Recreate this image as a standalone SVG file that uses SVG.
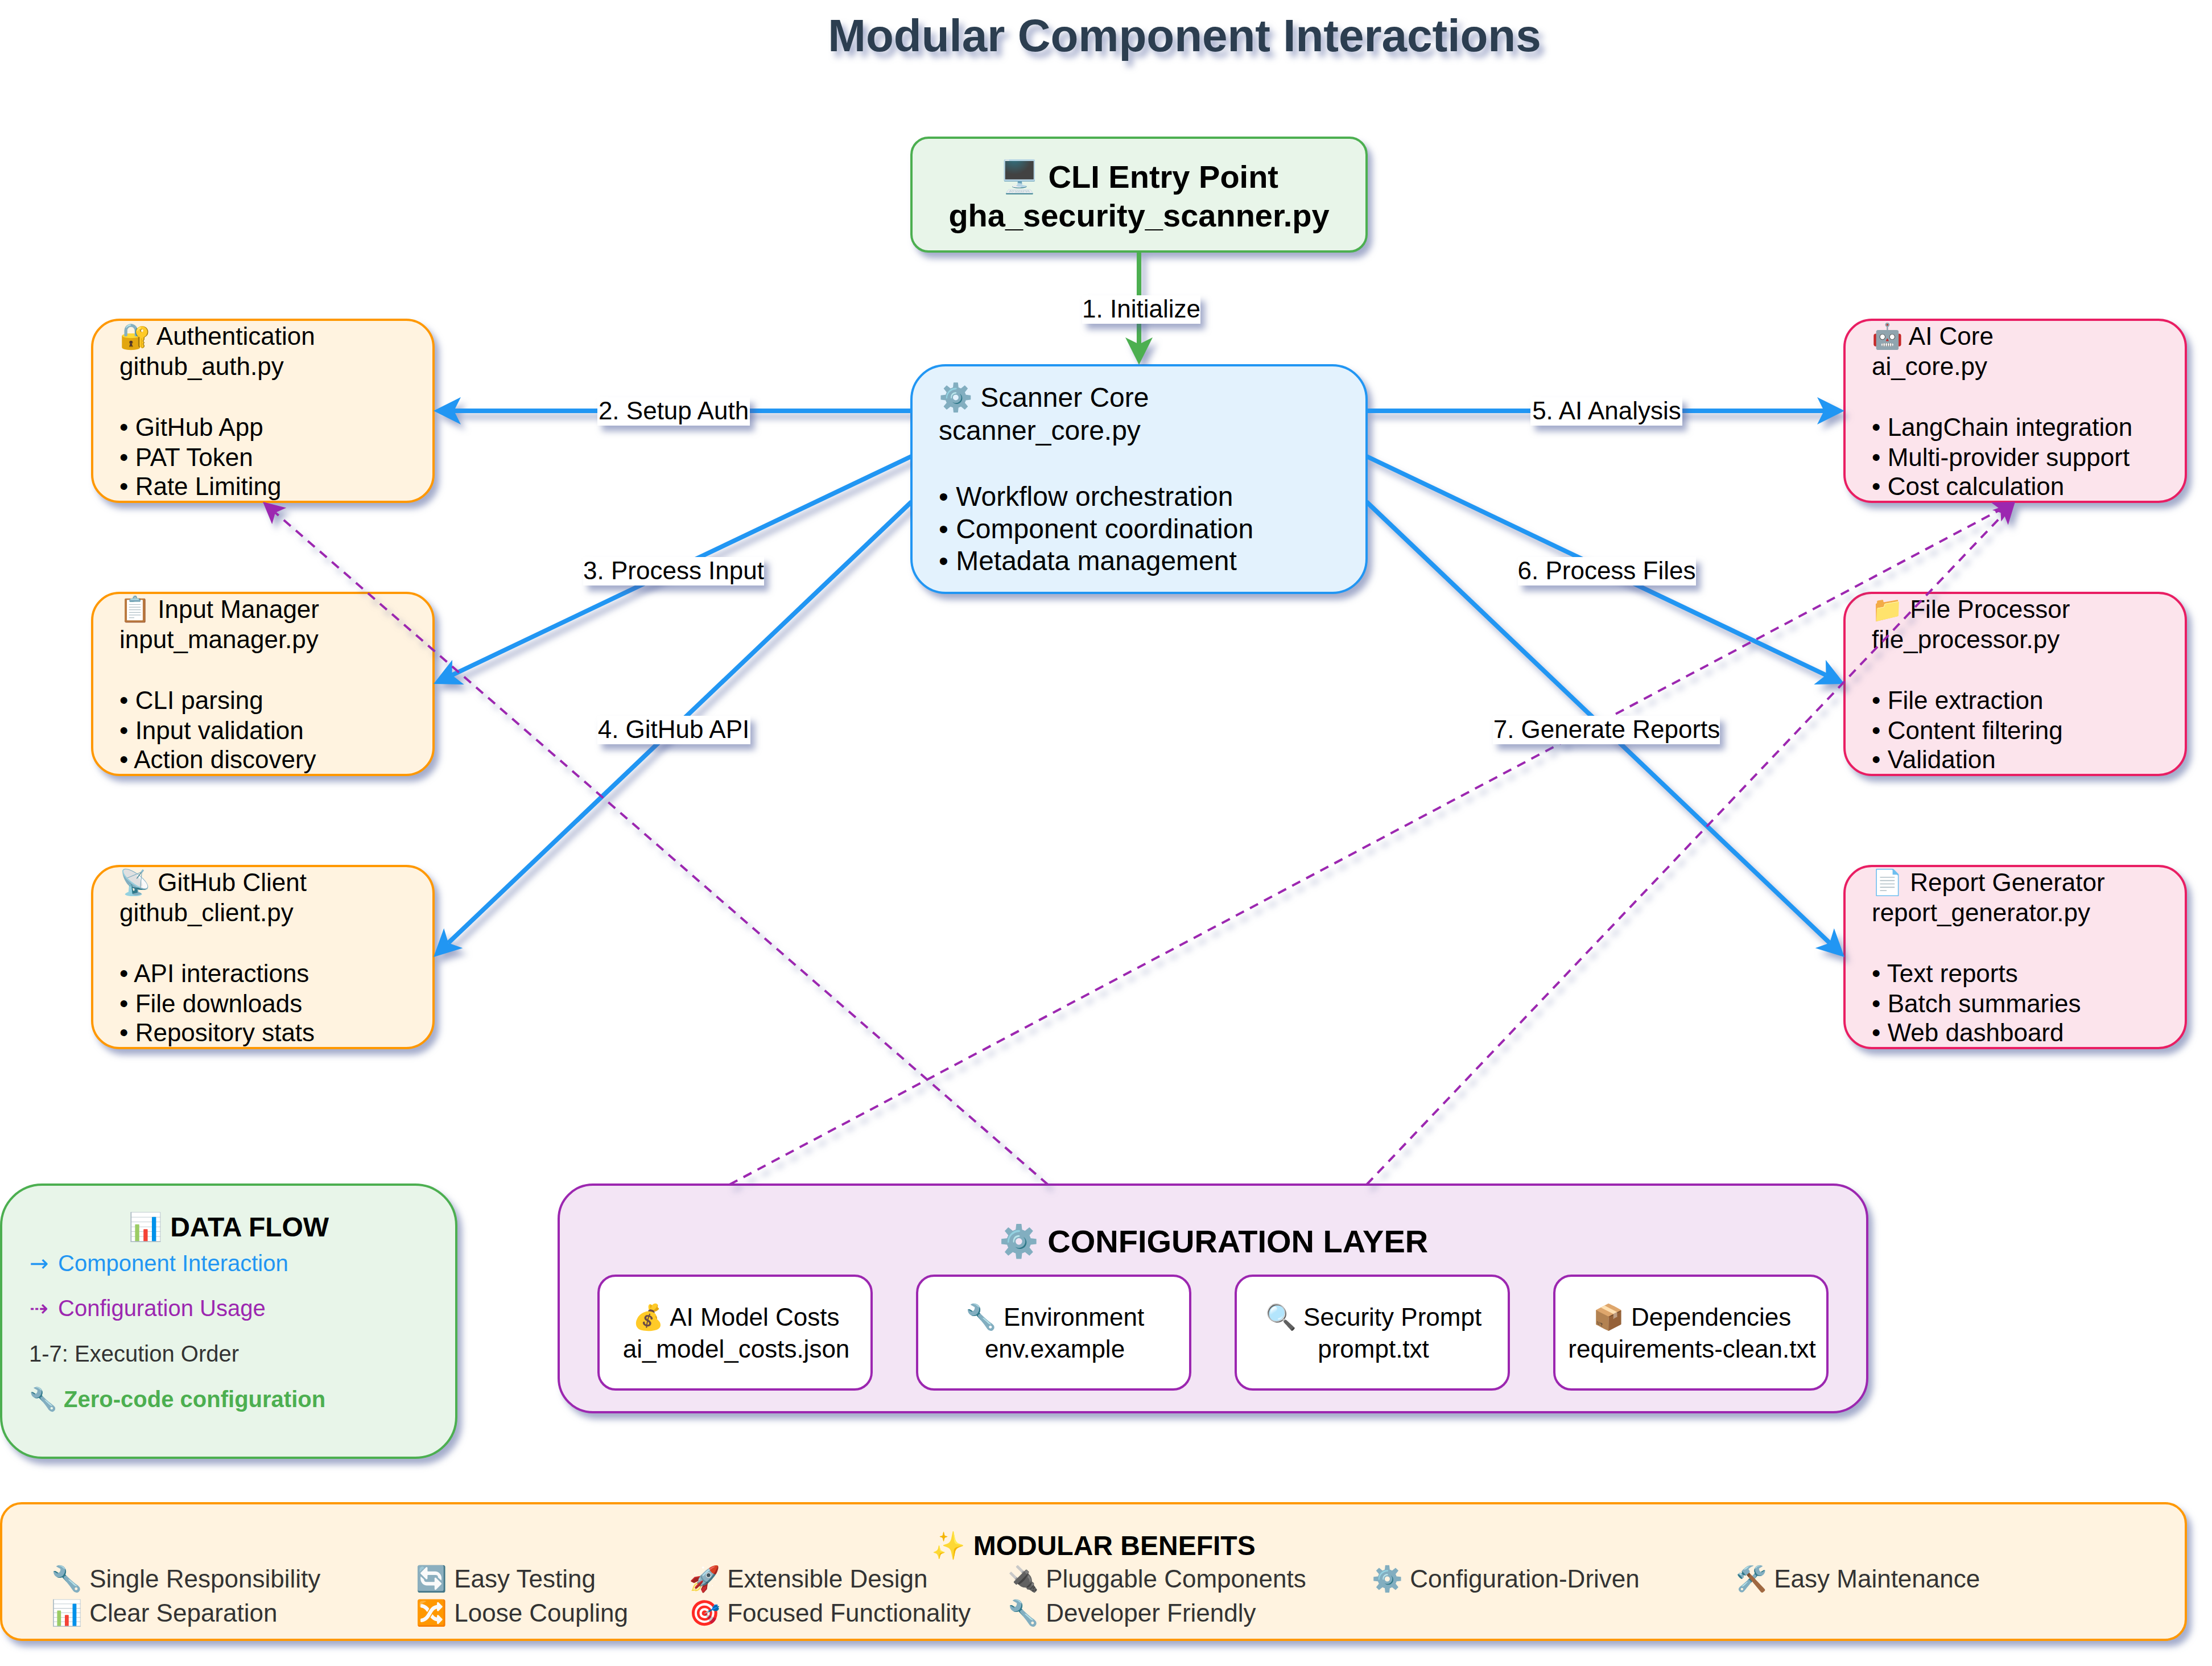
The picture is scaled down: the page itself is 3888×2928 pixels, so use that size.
<svg xmlns="http://www.w3.org/2000/svg" width="3888" height="2928" viewBox="0 0 3888 2928">
<style>
text{font-family:"Liberation Sans","DejaVu Sans",sans-serif;fill:#000}
.t44{font-size:44px}
.t48{font-size:48px}
.t40{font-size:40px}
.b{font-weight:bold}
.m{text-anchor:middle}
.box{stroke-width:4}
.green{fill:#e8f5e9;stroke:#4caf50}
.blue{fill:#e3f2fd;stroke:#2196f3}
.orange{fill:#fff3e0;stroke:#ff9800}
.pink{fill:#fce4ec;stroke:#e91e63}
.purple{fill:#f3e5f5;stroke:#9c27b0}
.child{fill:#fff;stroke:#9c27b0;stroke-width:4}
.ben{font-size:44px;fill:#333}
.flow{fill:none;stroke:#2196f3;stroke-width:8;marker-end:url(#hb)}
.cfg{fill:none;stroke:#9c27b0;stroke-width:4;stroke-dasharray:16 12;marker-end:url(#hp)}
.lbl{fill:#fff}
.arw{font-family:"DejaVu Sans",sans-serif}
</style>
<defs>
<filter id="s" filterUnits="userSpaceOnUse" x="-50" y="-50" width="3988" height="3028" color-interpolation-filters="sRGB"><feDropShadow dx="8" dy="10" stdDeviation="6" flood-color="#4a5a98" flood-opacity="0.5"/></filter>
<marker id="hb" markerUnits="userSpaceOnUse" markerWidth="48" markerHeight="48" refX="12" refY="24" orient="auto" overflow="visible"><path d="M0 0L48 24L0 48L12 24Z" fill="#2196f3"/></marker>
<marker id="hg" markerUnits="userSpaceOnUse" markerWidth="48" markerHeight="48" refX="12" refY="24" orient="auto" overflow="visible"><path d="M0 0L48 24L0 48L12 24Z" fill="#4caf50"/></marker>
<marker id="hp" markerUnits="userSpaceOnUse" markerWidth="38" markerHeight="38" refX="9" refY="19" orient="auto" overflow="visible"><path d="M0 0L38 19L0 38L9 19Z" fill="#9c27b0"/></marker>
<clipPath id="notCore"><path clip-rule="evenodd" d="M0 0H3888V2928H0ZM1602 642H2402V1042H1602Z"/></clipPath>
</defs>
<rect width="3888" height="2928" fill="#fff"/>
<text id="title" x="2082" y="90" class="b m" font-size="80" style="fill:#2c3e50" filter="url(#s)">Modular Component Interactions</text>

<g id="cli-entry"><rect class="box green" x="1602" y="242" width="800" height="200" rx="30" filter="url(#s)"/>
<text x="2002" y="330" class="b m" font-size="56">🖥️ CLI Entry Point</text><text x="2002" y="398" class="b m" font-size="56">gha_security_scanner.py</text></g>

<g id="scanner-core"><rect class="box blue" x="1602" y="642" width="800" height="400" rx="60" filter="url(#s)"/>
<text class="t48"><tspan x="1650" y="715">⚙️ Scanner Core</tspan><tspan x="1650" y="773">scanner_core.py</tspan><tspan x="1650" y="889">• Workflow orchestration</tspan><tspan x="1650" y="946">• Component coordination</tspan><tspan x="1650" y="1002">• Metadata management</tspan></text></g>

<g id="authentication"><rect class="box orange" x="162" y="562" width="600" height="320" rx="48" filter="url(#s)"/>
<text class="t44"><tspan x="210" y="606">🔐 Authentication</tspan><tspan x="210" y="658.8">github_auth.py</tspan><tspan x="210" y="766">• GitHub App</tspan><tspan x="210" y="818.5">• PAT Token</tspan><tspan x="210" y="870">• Rate Limiting</tspan></text></g>

<g id="input-manager"><rect class="box orange" x="162" y="1042" width="600" height="320" rx="48" filter="url(#s)"/>
<text class="t44"><tspan x="210" y="1086">📋 Input Manager</tspan><tspan x="210" y="1138.8">input_manager.py</tspan><tspan x="210" y="1246">• CLI parsing</tspan><tspan x="210" y="1298.5">• Input validation</tspan><tspan x="210" y="1350">• Action discovery</tspan></text></g>

<g id="github-client"><rect class="box orange" x="162" y="1522" width="600" height="320" rx="48" filter="url(#s)"/>
<text class="t44"><tspan x="210" y="1566">📡 GitHub Client</tspan><tspan x="210" y="1618.8">github_client.py</tspan><tspan x="210" y="1726">• API interactions</tspan><tspan x="210" y="1778.5">• File downloads</tspan><tspan x="210" y="1830">• Repository stats</tspan></text></g>

<g id="ai-core"><rect class="box pink" x="3242" y="562" width="600" height="320" rx="48" filter="url(#s)"/>
<text class="t44"><tspan x="3290" y="606">🤖 AI Core</tspan><tspan x="3290" y="658.8">ai_core.py</tspan><tspan x="3290" y="766">• LangChain integration</tspan><tspan x="3290" y="818.5">• Multi-provider support</tspan><tspan x="3290" y="870">• Cost calculation</tspan></text></g>

<g id="file-processor"><rect class="box pink" x="3242" y="1042" width="600" height="320" rx="48" filter="url(#s)"/>
<text class="t44"><tspan x="3290" y="1086">📁 File Processor</tspan><tspan x="3290" y="1138.8">file_processor.py</tspan><tspan x="3290" y="1246">• File extraction</tspan><tspan x="3290" y="1298.5">• Content filtering</tspan><tspan x="3290" y="1350">• Validation</tspan></text></g>

<g id="report-generator"><rect class="box pink" x="3242" y="1522" width="600" height="320" rx="48" filter="url(#s)"/>
<text class="t44"><tspan x="3290" y="1566">📄 Report Generator</tspan><tspan x="3290" y="1618.8">report_generator.py</tspan><tspan x="3290" y="1726">• Text reports</tspan><tspan x="3290" y="1778.5">• Batch summaries</tspan><tspan x="3290" y="1830">• Web dashboard</tspan></text></g>

<g id="data-flow"><rect class="box green" x="2" y="2082" width="800" height="480" rx="72" filter="url(#s)"/>
<text x="402" y="2173" class="t48 b m">📊 DATA FLOW</text>
<text x="52" y="2234" class="t40" style="fill:#2196f3"><tspan class="arw">→</tspan> <tspan x="102">Component Interaction</tspan></text>
<text x="52" y="2313" class="t40" style="fill:#9c27b0"><tspan class="arw">⇢</tspan> <tspan x="102">Configuration Usage</tspan></text>
<text x="51" y="2393" class="t40" style="fill:#333">1-7: Execution Order</text>
<text x="51" y="2473" class="t40 b" style="fill:#4caf50">🔧 Zero-code configuration</text></g>

<g id="configuration-layer"><rect class="box purple" x="982" y="2082" width="2300" height="400" rx="60" filter="url(#s)"/>
<text x="2133" y="2201" class="b m" font-size="56">⚙️ CONFIGURATION LAYER</text>
<g id="cfg-ai-model-costs"><rect class="child" x="1052" y="2242" width="480" height="200" rx="30"/><text class="t44 m"><tspan x="1294" y="2330">💰 AI Model Costs</tspan><tspan x="1294" y="2386">ai_model_costs.json</tspan></text></g>
<g id="cfg-environment"><rect class="child" x="1612" y="2242" width="480" height="200" rx="30"/><text class="t44 m"><tspan x="1854" y="2330">🔧 Environment</tspan><tspan x="1854" y="2386">env.example</tspan></text></g>
<g id="cfg-security-prompt"><rect class="child" x="2172" y="2242" width="480" height="200" rx="30"/><text class="t44 m"><tspan x="2414" y="2330">🔍 Security Prompt</tspan><tspan x="2414" y="2386">prompt.txt</tspan></text></g>
<g id="cfg-dependencies"><rect class="child" x="2732" y="2242" width="480" height="200" rx="30"/><text class="t44 m"><tspan x="2974" y="2330">📦 Dependencies</tspan><tspan x="2974" y="2386">requirements-clean.txt</tspan></text></g></g>

<g id="modular-benefits"><rect class="box orange" x="2" y="2642" width="3840" height="240" rx="36" filter="url(#s)"/>
<text x="1922" y="2733" class="t48 b m">✨ MODULAR BENEFITS</text>
<text class="ben"><tspan x="90" y="2790">🔧 Single Responsibility</tspan><tspan x="90" y="2850">📊 Clear Separation</tspan></text>
<text class="ben"><tspan x="731" y="2790">🔄 Easy Testing</tspan><tspan x="731" y="2850">🔀 Loose Coupling</tspan></text>
<text class="ben"><tspan x="1211" y="2790">🚀 Extensible Design</tspan><tspan x="1211" y="2850">🎯 Focused Functionality</tspan></text>
<text class="ben"><tspan x="1771" y="2790">🔌 Pluggable Components</tspan><tspan x="1771" y="2850">🔧 Developer Friendly</tspan></text>
<text class="ben"><tspan x="2411" y="2790">⚙️ Configuration-Driven</tspan></text>
<text class="ben"><tspan x="3051" y="2790">🛠️ Easy Maintenance</tspan></text></g>

<g id="connectors" filter="url(#s)" clip-path="url(#notCore)">
<path d="M2002 442V605" fill="none" stroke="#4caf50" stroke-width="8" marker-end="url(#hg)"/>
<path class="flow" d="M1602 722H798"/>
<path class="flow" d="M1602 802L794.5 1186.5"/>
<path class="flow" d="M1602 882L788.1 1657.2"/>
<path class="flow" d="M2402 722H3206"/>
<path class="flow" d="M2402 802L3209.5 1186.5"/>
<path class="flow" d="M2402 882L3215.9 1657.2"/>
<path class="cfg" d="M1842 2082L483.9 901"/>
<path class="cfg" d="M1282 2082L3516.4 895.6"/>
<path class="cfg" d="M2402 2082L3522 903"/>
</g>

<g id="connector-labels">
<g filter="url(#s)">
<rect class="lbl" x="1902" y="519" width="208" height="50"/>
<rect class="lbl" x="1050" y="698" width="268" height="50"/>
<rect class="lbl" x="1025" y="979" width="318" height="50"/>
<rect class="lbl" x="1050" y="1258" width="269" height="50"/>
<rect class="lbl" x="2690" y="698" width="267" height="50"/>
<rect class="lbl" x="2668" y="979" width="313" height="50"/>
<rect class="lbl" x="2624" y="1258" width="399" height="50"/>
</g>
<text x="2006" y="558" class="t44 m">1. Initialize</text>
<text x="1184" y="737" class="t44 m">2. Setup Auth</text>
<text x="1184" y="1018" class="t44 m">3. Process Input</text>
<text x="1184" y="1297" class="t44 m">4. GitHub API</text>
<text x="2824" y="737" class="t44 m">5. AI Analysis</text>
<text x="2824" y="1018" class="t44 m">6. Process Files</text>
<text x="2824" y="1297" class="t44 m">7. Generate Reports</text>
</g>
</svg>
